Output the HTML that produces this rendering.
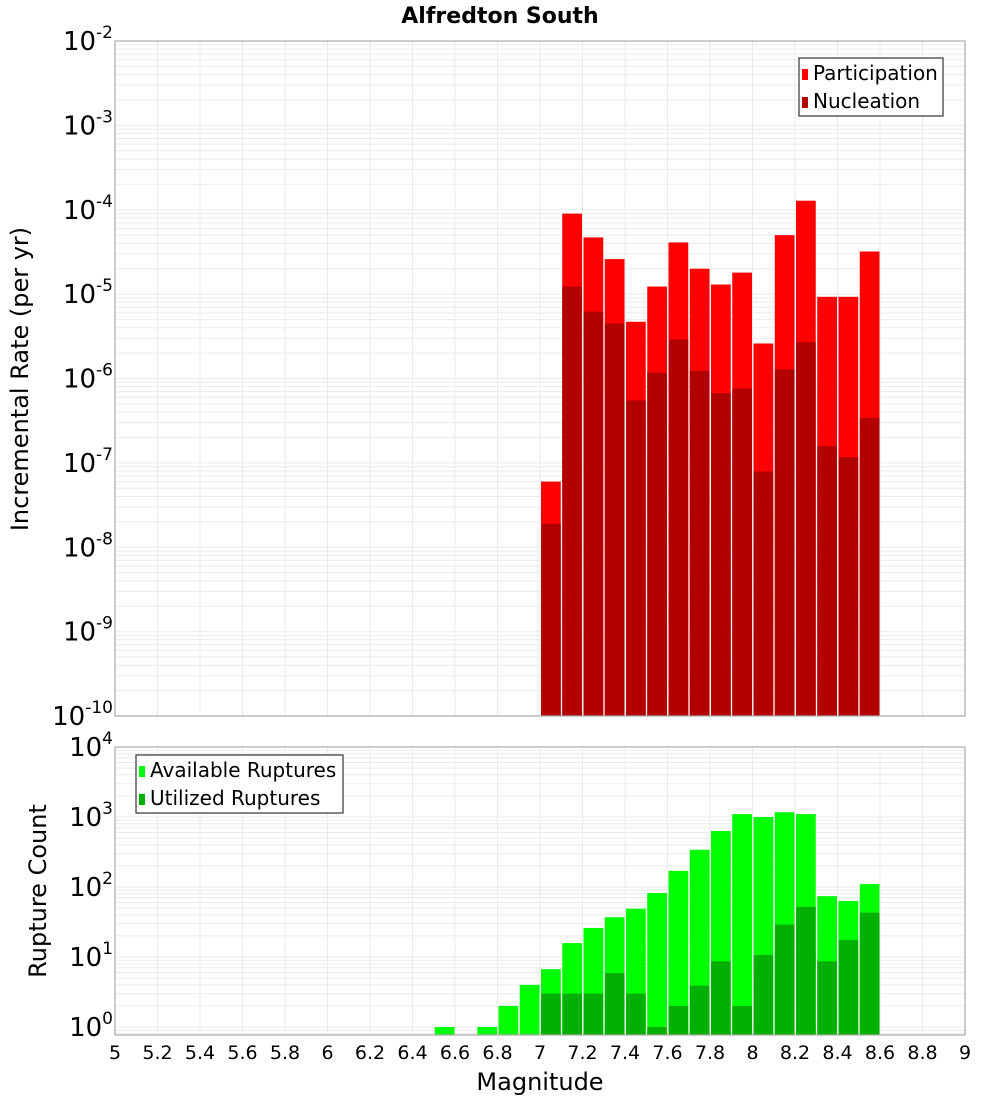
<!DOCTYPE html>
<html><head><meta charset="utf-8"><style>
body{margin:0;background:#fff}
svg{display:block;font-family:"DejaVu Sans","Liberation Sans",sans-serif}
</style></head><body>
<svg id="chart" width="1000" height="1100" viewBox="0 0 1000 1100" xmlns="http://www.w3.org/2000/svg">
<text x="500" y="23" text-anchor="middle" font-size="22" font-weight="bold">Alfredton South</text>
<g id="top"></g>
<g id="bot"></g>
</svg>
<script>
const binsTop = [7.0,7.1,7.2,7.3,7.4,7.5,7.6,7.7,7.8,7.9,8.0,8.1,8.2,8.3,8.4,8.5];
const participation = [6e-8,9e-5,4.7e-5,2.6e-5,4.7e-6,1.23e-5,4.1e-5,2e-5,1.3e-5,1.8e-5,2.6e-6,5e-5,1.28e-4,9.3e-6,9.3e-6,3.2e-5];
const nucleation = [1.9e-8,1.23e-5,6.2e-6,4.5e-6,5.5e-7,1.17e-6,2.9e-6,1.23e-6,6.7e-7,7.6e-7,7.9e-8,1.28e-6,2.7e-6,1.58e-7,1.17e-7,3.4e-7];
const binsBot = [6.5,6.7,6.8,6.9,7.0,7.1,7.2,7.3,7.4,7.5,7.6,7.7,7.8,7.9,8.0,8.1,8.2,8.3,8.4,8.5];
const available = [1,1,2,4,6.7,15.8,26,37,49,82,170,340,630,1100,1000,1170,1100,74,63,110];
const utilized = [0,0,0,0,3,3,3,5.9,3,1,2,3.9,8.7,2,10.7,29,52,8.7,17.5,43];
const xTicks = [5,5.2,5.4,5.6,5.8,6,6.2,6.4,6.6,6.8,7,7.2,7.4,7.6,7.8,8,8.2,8.4,8.6,8.8,9];
const topExp = [-2,-3,-4,-5,-6,-7,-8,-9,-10];
const botExp = [4,3,2,1,0];

const NS="http://www.w3.org/2000/svg";
const X0=115,X1=965;
const xs=m=>X0+(m-5)/4*(X1-X0);
function mk(tag,attrs,parent){const e=document.createElementNS(NS,tag);for(const k in attrs)e.setAttribute(k,attrs[k]);parent.appendChild(e);return e;}
const yTop=v=>41+(-2-Math.log10(v))*84.375;
const yBot=v=>747+(4-Math.log10(v))*70;

function panel(g,yf,yT,yB,loE,hiE,exps,name){
  for(let d=loE-1;d<=hiE;d++){for(let k=1;k<10;k++){const v=k*Math.pow(10,d);const y=yf(v);if(y<yT-0.5||y>yB+0.5)continue;
    const l=mk('line',{x1:X0,x2:X1,y1:y,y2:y,stroke:'#ebebeb','stroke-width':1},g);
    
    }}
  xTicks.forEach(t=>{const x=xs(t);const l=mk('line',{x1:x,x2:x,y1:yT,y2:yB,stroke:'#ebebeb','stroke-width':1},g);
    
    });
  exps.forEach(e=>{const y=yf(Math.pow(10,e));
    const t=mk('text',{x:113,y:y+9,'text-anchor':'end','font-size':26},g);
    
    
    const a=mk('tspan',{},t);a.textContent='10';
    const b=mk('tspan',{dy:-12,'font-size':17},t);b.textContent=String(e);});
}
function border(g,yT,yB){const r=mk('rect',{x:X0,y:yT,width:X1-X0,height:yB-yT,fill:'none',stroke:'#aaaaaa','stroke-width':1.2},g);
  
  }
function bars(g,bins,vals,yf,yB,color,name){
  bins.forEach((b,i)=>{const v=vals[i];if(!(v>0))return;const x=xs(b)+1,w=xs(b+0.1)-xs(b)-1.5;const y=Math.min(yf(v),yB);
    const r=mk('rect',{x:x,y:y,width:w,height:yB-y,fill:color},g);
    
    });
}
function legend(g,x,y,w,items,name){
  const r=mk('rect',{x:x,y:y,width:w,height:58,fill:'#fff',stroke:'#333','stroke-width':1.2},g);
  
  
  items.forEach((it,i)=>{const yy=y+11+i*28;
    const s=mk('rect',{x:x+3,y:yy,width:6,height:11,fill:it[1]},g);
    
    
    const t=mk('text',{x:x+14,y:yy+11,'font-size':20},g);t.textContent=it[0];
    
    });
}
const gt=document.getElementById('top'),gb=document.getElementById('bot');
panel(gt,yTop,41,716,-10,-2,topExp,'rate');
bars(gt,binsTop,participation,yTop,716,'#ff0000','participation');
bars(gt,binsTop,nucleation,yTop,716,'#b20000','nucleation');
border(gt,41,716);
legend(gt,799,58,144,[['Participation','#ff0000'],['Nucleation','#b20000']],'rate-legend');
panel(gb,yBot,747,1035,0,4,botExp,'count');
bars(gb,binsBot,available,yBot,1035,'#00ff00','available');
bars(gb,binsBot,utilized,yBot,1035,'#00b000','utilized');
border(gb,747,1035);
legend(gb,136,755,207,[['Available Ruptures','#00ff00'],['Utilized Ruptures','#00b000']],'count-legend');
xTicks.forEach(t=>{const e=mk('text',{x:xs(t),y:1059,'text-anchor':'middle','font-size':19},gb);e.textContent=String(t);
  
  });
let e=mk('text',{x:540,y:1090,'text-anchor':'middle','font-size':24},gb);e.textContent='Magnitude';


e=mk('text',{x:0,y:0,'text-anchor':'middle','font-size':24,transform:'translate(28,379) rotate(-90)'},gt);e.textContent='Incremental Rate (per yr)';


e=mk('text',{x:0,y:0,'text-anchor':'middle','font-size':24,transform:'translate(46,891) rotate(-90)'},gb);e.textContent='Rupture Count';


</script>
</body></html>
